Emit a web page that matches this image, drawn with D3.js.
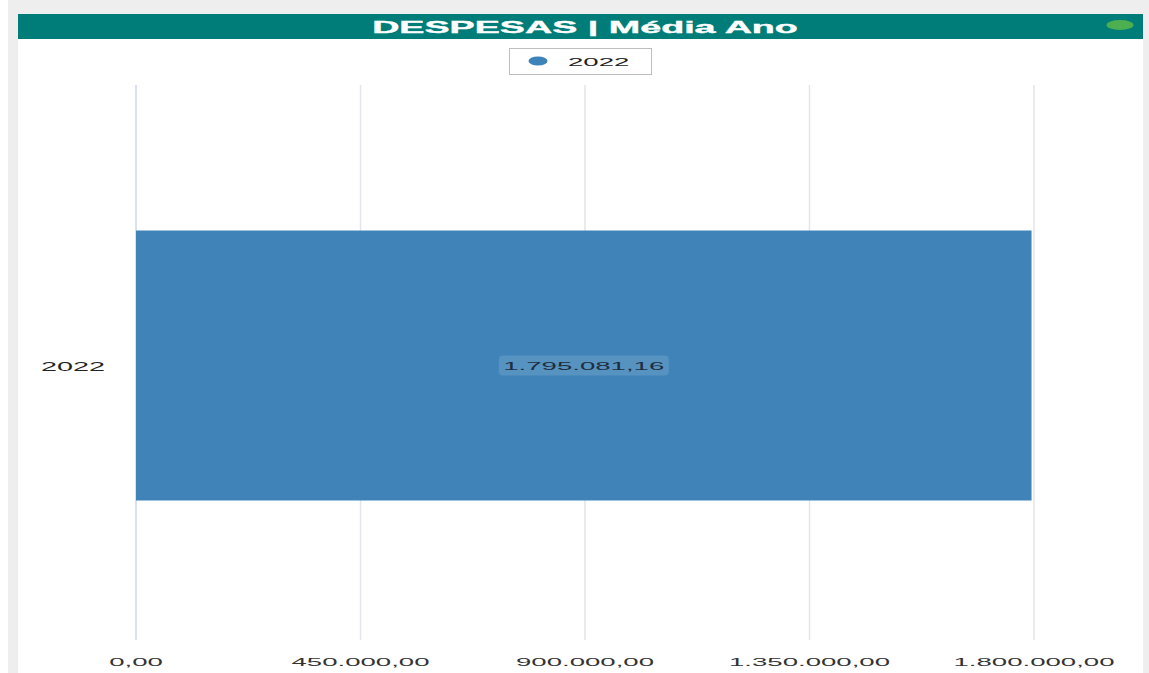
<!DOCTYPE html>
<html>
<head>
<meta charset="utf-8">
<script src="https://cdn.jsdelivr.net/npm/d3@7"></script>
<style>
  html, body { margin: 0; padding: 0; background: #fff; }
  svg { display: block; font-family: Arial, "Liberation Sans", sans-serif; }
</style>
</head>
<body>
<svg id="chart" width="1149" height="673"></svg>
<script>
const title = "DESPESAS | Média Ano";
const categories = ["2022"];
const values = [1795081.16];
const seriesName = "2022";
const tickValues = [0, 450000, 900000, 1350000, 1800000];

const W = 1149, H = 673;
const sx = 2.4; // the picture is stretched sideways
const svg = d3.select("#chart");

const fmt = (v) =>
  d3.format(",.2f")(v).replace(/,/g, "#").replace(/\./g, ",").replace(/#/g, ".");

// background and panel
svg.append("rect").attr("x", 8).attr("y", 0).attr("width", W - 8).attr("height", H).attr("fill", "#eeeeee");
svg.append("rect").attr("x", 18).attr("y", 14).attr("width", 1125).attr("height", H - 14).attr("fill", "#ffffff");
svg.append("rect").attr("x", 18).attr("y", 14).attr("width", 1125).attr("height", 25).attr("fill", "#007d78");

const stretched = (sel, x, y) => sel.attr("transform", `translate(${x},${y}) scale(${sx},1)`);

stretched(
  svg.append("text")
    .attr("text-anchor", "middle")
    .attr("fill", "#ffffff")
    .attr("stroke", "#ffffff")
    .attr("stroke-width", 0.35)
    .attr("font-weight", "bold")
    .attr("font-size", 15.7)
    .text(title),
  585, 32.5
);

svg.append("ellipse").attr("cx", 1120).attr("cy", 25).attr("rx", 13.5).attr("ry", 5).attr("fill", "#4caf50");

// legend
svg.append("rect").attr("x", 509.5).attr("y", 48.5).attr("width", 142).attr("height", 26)
  .attr("fill", "#fff").attr("stroke", "#bdbdbd");
svg.append("ellipse").attr("cx", 538).attr("cy", 61).attr("rx", 9.5).attr("ry", 4.5).attr("fill", "#3d82b9");
stretched(
  svg.append("text").attr("font-size", 11.5).attr("fill", "#222").text(seriesName),
  568, 65.5
);

const x = d3.scaleLinear().domain([0, 1800000]).range([136, 1034]);
const y = d3.scaleBand().domain(categories).range([88, 643]).padding(0.3455);

// grid
svg.append("g").selectAll("line").data(tickValues).join("line")
  .attr("x1", (d) => x(d)).attr("x2", (d) => x(d))
  .attr("y1", 85).attr("y2", 640)
  .attr("stroke", (d) => (d === 0 ? "#ccd6ea" : "#e3e5ea"))
  .attr("stroke-width", 1.5);

// tick labels
svg.append("g").selectAll("text").data(tickValues).join("text")
  .attr("text-anchor", "middle")
  .attr("font-size", 11.5)
  .attr("fill", "#333")
  .attr("transform", (d) => `translate(${x(d)},666) scale(${sx},1)`)
  .text((d) => fmt(d));

// category labels
svg.append("g").selectAll("text").data(categories).join("text")
  .attr("text-anchor", "middle")
  .attr("font-size", 12)
  .attr("fill", "#222")
  .attr("transform", (d) => `translate(73,${y(d) + y.bandwidth() / 2 + 5}) scale(${sx},1)`)
  .text((d) => d);

// bars
const bars = categories.map((c, i) => ({ c, v: values[i] }));
svg.append("g").selectAll("rect").data(bars).join("rect")
  .attr("x", x(0))
  .attr("y", (d) => y(d.c))
  .attr("width", (d) => x(d.v) - x(0))
  .attr("height", y.bandwidth())
  .attr("fill", "#3f83b8");

// value labels
const lab = svg.append("g").selectAll("g").data(bars).join("g")
  .attr("transform", (d) => `translate(${(x(0) + x(d.v)) / 2},${y(d.c) + y.bandwidth() / 2})`);
lab.append("rect")
  .attr("x", -85).attr("y", -10).attr("width", 170).attr("height", 20).attr("rx", 4)
  .attr("fill", "#ffffff").attr("fill-opacity", 0.13);
lab.append("text")
  .attr("text-anchor", "middle")
  .attr("font-size", 11.5)
  .attr("fill", "#1f2d3d")
  .attr("transform", `translate(0,4.5) scale(${sx},1)`)
  .text((d) => fmt(d.v));
</script>
</body>
</html>
